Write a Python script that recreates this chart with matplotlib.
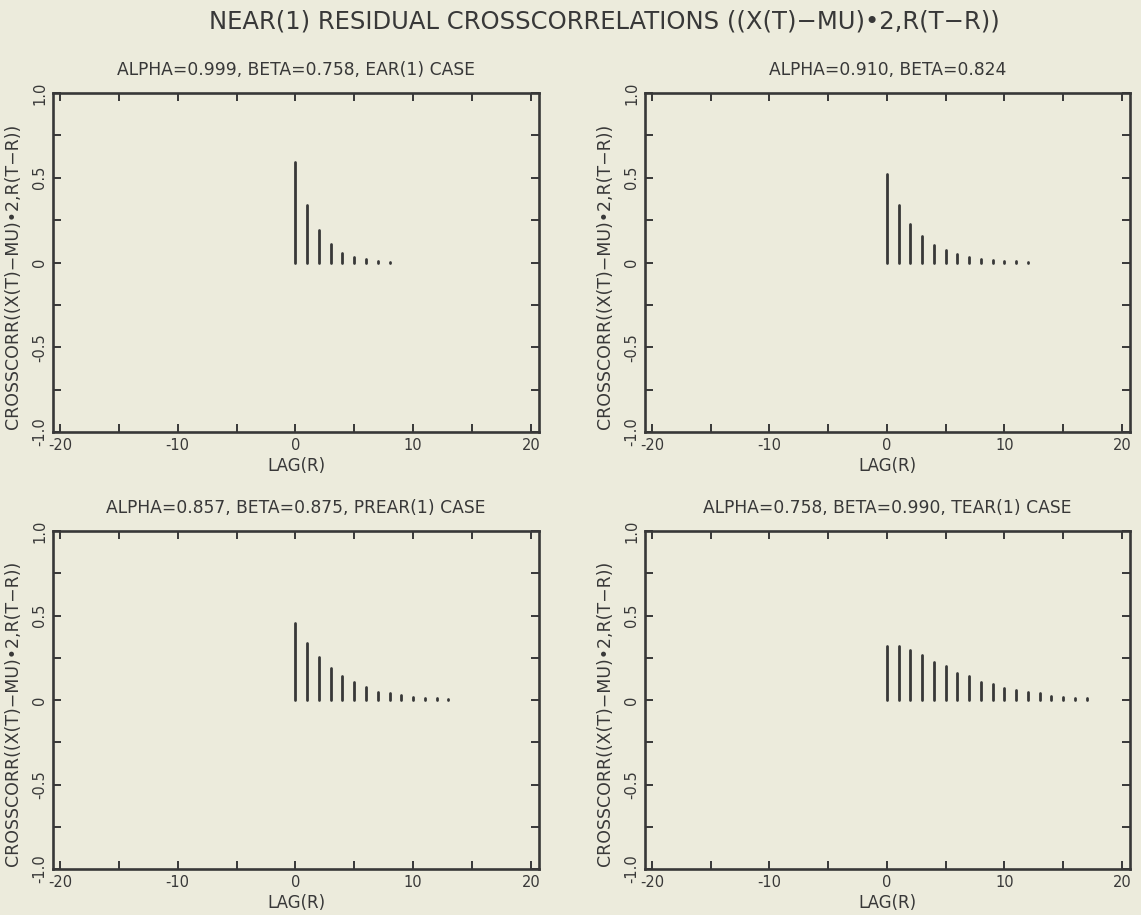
import numpy as np
import matplotlib
matplotlib.use("Agg")
import matplotlib.pyplot as plt
from matplotlib.ticker import FixedLocator

# values (crosscorrelation at lag r = 0, 1, 2, ...)
titles = ["ALPHA=0.999, BETA=0.758, EAR(1) CASE",
          "ALPHA=0.910, BETA=0.824",
          "ALPHA=0.857, BETA=0.875, PREAR(1) CASE",
          "ALPHA=0.758, BETA=0.990, TEAR(1) CASE"]

ear1 = [0.59, 0.34, 0.19, 0.11, 0.057, 0.034, 0.018, 0.010, 0.004]
near_a910 = [0.52, 0.34, 0.23, 0.155, 0.104, 0.071, 0.049, 0.030, 0.020,
             0.012, 0.009, 0.006, 0.003]
prear1 = [0.456, 0.338, 0.255, 0.187, 0.141, 0.104, 0.075, 0.049, 0.039,
          0.028, 0.018, 0.014, 0.010, 0.004]
tear1 = [0.317, 0.317, 0.293, 0.267, 0.226, 0.199, 0.161, 0.140, 0.108,
         0.092, 0.069, 0.059, 0.045, 0.039, 0.024, 0.016, 0.014, 0.010]
series = [ear1, near_a910, prear1, tear1]

xticks = [-20, -10, 0, 10, 20]
xlabels = ["-20", "-10", "0", "10", "20"]
yticks = [-1.0, -0.5, 0.0, 0.5, 1.0]
ylabels = ["-1.0", "-0.5", "0", "0.5", "1.0"]

bg = "#ecebdc"
ink = "#383838"

plt.rcParams["font.family"] = ["DejaVu Sans"]
plt.rcParams["text.color"] = ink
plt.rcParams["axes.labelcolor"] = ink
plt.rcParams["xtick.color"] = ink
plt.rcParams["ytick.color"] = ink

fig = plt.figure(figsize=(11.41, 9.15), dpi=100, facecolor=bg)
W, H = 1141.0, 915.0

# axes boxes in pixels: left, top, right, bottom
boxes = [(53, 93, 539, 432), (645, 93, 1130, 432),
         (53, 531, 539, 869), (645, 531, 1130, 869)]

for k in range(4):
    l, t, r, b = boxes[k]
    ax = fig.add_axes([l / W, 1 - b / H, (r - l) / W, (b - t) / H])
    ax.set_facecolor(bg)
    vals = series[k]
    lags = np.arange(len(vals))
    ax.vlines(lags, 0, vals, color=ink, lw=2.0, capstyle="round")

    ax.set_xlim(-20.6, 20.7)
    ax.set_ylim(-1, 1)
    ax.set_xticks(xticks)
    ax.set_xticklabels(xlabels)
    ax.set_yticks(yticks)
    ax.set_yticklabels(ylabels, rotation=90, va="center")
    ax.xaxis.set_minor_locator(FixedLocator([-15, -5, 5, 15]))
    ax.yaxis.set_minor_locator(FixedLocator([-0.75, -0.25, 0.25, 0.75]))
    ax.tick_params(which="both", direction="in", top=True, right=True,
                   length=6, width=1.4, labelsize=10.5, pad=4)
    for s in ax.spines.values():
        s.set_linewidth(1.9)
        s.set_color(ink)

    ax.set_title(titles[k], fontsize=12.3, pad=13)
    ax.set_xlabel("LAG(R)", fontsize=12, labelpad=3)
    ax.set_ylabel("CROSSCORR((X(T)\u2212MU)\u20222,R(T\u2212R))", fontsize=12.5,
                  labelpad=4)
    ax.yaxis.set_label_coords(-0.064, 0.46)

fig.text(0.53, 1 - 21 / H, "NEAR(1) RESIDUAL CROSSCORRELATIONS ((X(T)\u2212MU)\u20222,R(T\u2212R))",
         ha="center", va="center", fontsize=17.5)

fig.savefig("out.png", dpi=100, facecolor=bg)
